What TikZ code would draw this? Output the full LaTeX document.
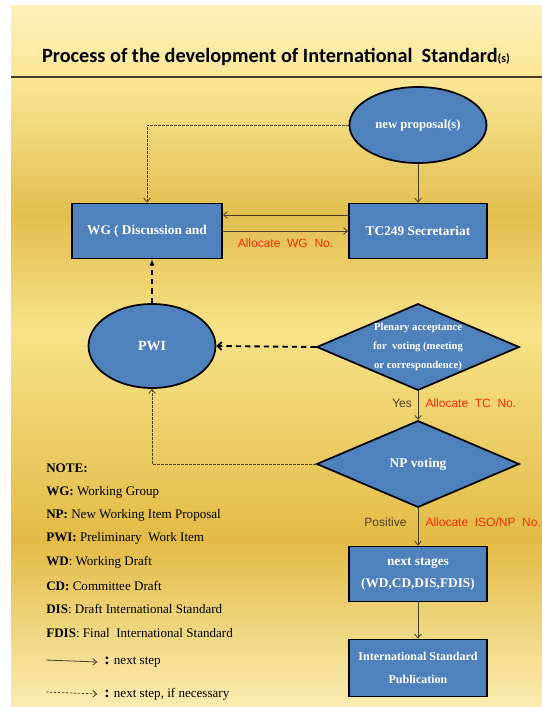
\documentclass[tikz,border=0pt]{standalone}
\usepackage{fontspec}
\setmainfont{Liberation Serif}
\newfontfamily\titlefont{Carlito}
\newfontfamily\labelfont{Liberation Sans}
\usetikzlibrary{shapes.geometric,arrows.meta}

\definecolor{boxblue}{RGB}{79,129,189}
\definecolor{allocred}{RGB}{250,45,10}
\definecolor{linegray}{RGB}{72,64,36}
\definecolor{goldA}{RGB}{253,241,188}
\definecolor{goldB}{RGB}{249,231,150}
\definecolor{goldC}{RGB}{226,190,78}
\definecolor{goldD}{RGB}{247,226,136}
\definecolor{goldE}{RGB}{226,187,70}
\definecolor{goldF}{RGB}{250,237,178}

\begin{document}
\begin{tikzpicture}[x=0.75pt,y=-0.75pt,
    >={Straight Barb[length=3pt,width=5pt]},
    box/.style={draw=black, line width=1.3pt, fill=boxblue, text=white,
        font=\bfseries\fontsize{10}{17}\selectfont, align=center,
        minimum width=103.5pt, minimum height=41.25pt, inner sep=1pt},
    oval/.style={ellipse, draw=black, line width=1.3pt, fill=boxblue, text=white,
        font=\bfseries\fontsize{9.5}{12}\selectfont, inner sep=0pt},
    decide/.style={diamond, draw=black, line width=1.3pt, fill=boxblue, text=white,
        font=\bfseries\fontsize{8}{14}\selectfont, align=center,
        aspect=2.33, inner sep=0pt, minimum width=152pt, minimum height=65pt},
    flow/.style={->, draw=linegray, line width=0.6pt},
    maybe/.style={->, draw=linegray, line width=0.6pt, dash pattern=on 1.8pt off 1.2pt},
    back/.style={-{Latex[length=4.5pt,width=4pt]}, draw=black, line width=1.4pt, dash pattern=on 4pt off 3pt},
    alloc/.style={text=allocred, font=\labelfont\fontsize{9}{11}\selectfont},
    answer/.style={text=linegray, font=\labelfont\fontsize{9}{11}\selectfont},
    note/.style={anchor=west, inner sep=0pt, font=\fontsize{9.8}{11}\selectfont}]

\useasboundingbox (0,0) rectangle (542,707);

% Background
\fill[white] (0,0) rectangle (542,707);
\shade[top color=goldA, bottom color=goldB] (11,5) rectangle (542,77);
\shade[top color=goldB, bottom color=goldC] (11,77) rectangle (542,215);
\shade[top color=goldC, bottom color=goldD] (11,215) rectangle (542,330);
\shade[top color=goldD, bottom color=goldE] (11,330) rectangle (542,540);
\shade[top color=goldE, bottom color=goldF] (11,540) rectangle (542,707);
\draw[linegray, line width=1pt] (11,77) -- (542,77);

% Title
\node[font=\titlefont\bfseries\fontsize{15.2}{17}\selectfont] (title) at (276,57)
    {Process of the development of International\ \ Standard{\fontsize{9}{10}\selectfont(s)}};

% Nodes
\node[oval, minimum width=102.75pt, minimum height=57pt] (np) at (418,125) {new proposal(s)};
\node[box, minimum width=112.5pt] (wg) at (147,231) {WG ( Discussion and};
\node[box] (tc) at (418,231) {TC249 Secretariat};
\node[oval, minimum width=95.25pt, minimum height=63pt, font=\bfseries\fontsize{10.5}{12}\selectfont] (pwi) at (152,346) {PWI};
\node[decide] (plen) at (418,347) {Plenary acceptance\\for\ \ voting (meeting\\or correspondence)};
\node[decide, font=\bfseries\fontsize{10}{12}\selectfont] (npv) at (418,464) {NP voting};
\node[box] (next) at (418,574) {next stages\\(WD,CD,DIS,FDIS)};
\node[box, minimum height=42.75pt, font=\bfseries\fontsize{9}{17}\selectfont] (pub) at (418,668) {International Standard\\Publication};

% Connectors
\draw[flow] (np) -- (tc);
\draw[maybe] (np.west) -| (wg.north);
\draw[flow] ([yshift=12pt]tc.west) -- ([yshift=12pt]wg.east);
\draw[flow] (wg.east) -- (tc.west) node[alloc, midway, below=2pt] (wgno) {Allocate\ \ WG\ \ No.};
\draw[back] (pwi.north) -- (pwi.north |- wg.south);
\draw[back, -{Straight Barb[length=3pt,width=6pt]}] (plen.west) -- (pwi.east);
\draw[flow] (plen.south) -- (npv.north)
    node[answer, pos=0.42, left=1pt] (yes) {Yes}
    node[alloc, pos=0.42, right=2pt] (tcno) {Allocate\ \ TC\ \ No.};
\draw[maybe] (npv.west) -| (pwi.south);
\draw[flow] (npv.south) -- (next.north)
    node[answer, pos=0.38, left=5pt] (pos) {Positive}
    node[alloc, pos=0.38, right=2pt] (isono) {Allocate\ \ ISO/NP\ \ No.};
\draw[flow] (next) -- (pub);

% Notes
\node[note] (n0) at (46,468) {\textbf{NOTE:}};
\node[note] (n1) at (46,492) {\textbf{WG:} Working Group};
\node[note] (n2) at (46,515) {\textbf{NP:} New Working Item Proposal};
\node[note] (n3) at (46,538) {\textbf{PWI:} Preliminary\ \ Work Item};
\node[note] (n4) at (46,562) {\textbf{WD}: Working Draft};
\node[note] (n5) at (46,586) {\textbf{CD:} Committee Draft};
\node[note] (n6) at (46,609) {\textbf{DIS}: Draft International Standard};
\node[note] (n7) at (46,633) {\textbf{FDIS}: Final\ \ International Standard};

% Legend
\coordinate (solidA) at (46,660);
\node[note] (solidtxt) at (104,662) {\textbf{\large :} next step};
\draw[flow] (solidA) -- ([xshift=-5pt]solidtxt.west);
\coordinate (dashA) at (46,692);
\node[note] (dashtxt) at (104,694) {\textbf{\large :} next step, if necessary};
\draw[maybe] (dashA) -- ([xshift=-5pt]dashtxt.west);

\end{tikzpicture}
\end{document}
